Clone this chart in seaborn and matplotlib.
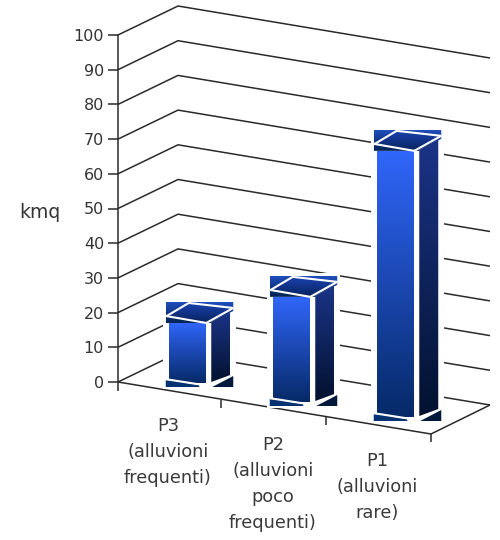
import numpy as np
import matplotlib
matplotlib.use("Agg")
import matplotlib.pyplot as plt
from matplotlib.patches import Polygon
import seaborn as sns
import pandas as pd

categories = ["P3\n(alluvioni\nfrequenti)", "P2\n(alluvioni\npoco\nfrequenti)", "P1\n(alluvioni\nrare)"]
values = [17.3, 30.3, 76.7]
tick_values = list(range(0, 101, 10))

# pixel geometry of the oblique view
W, H = 500, 540
X0, STEP = 187.5, 104.0      # first bar centre, spacing
Y0, UNIT = 382.0, 3.47       # value 0 row, pixels per unit
BASE_PX = [383, 402, 417]    # bar foot rows
LABEL_POS = [(168, 417), (273, 436), (377, 452)]

def dx(px): return (px - X0) / STEP
def dy(py): return (Y0 - py) / UNIT
def pts(seq): return [(dx(a), dy(b)) for a, b in seq]

sns.set_theme(style="white")
plt.rcParams['font.family'] = ['DejaVu Sans']
fig = plt.figure(figsize=(W / 100, H / 100), dpi=100)
ax = fig.add_axes([0, 0, 1, 1])
ax.patch.set_alpha(0)

df = pd.DataFrame({"cat": categories, "val": values})
sns.barplot(data=df, x="cat", y="val", ax=ax, width=37.5 / STEP, errorbar=None,
            color="#2f62f0", zorder=5)
bars = list(ax.patches)

LINE = "#2a2a2a"
def line(seq, z=1, lw=1.1, c=LINE):
    p = pts(seq)
    ax.plot([a for a, _ in p], [b for _, b in p], color=c, lw=lw, zorder=z, solid_capstyle="butt")

# walls
for v in tick_values:
    y = Y0 - v * UNIT
    line([(118, y), (178, y - 29), (490, y + 23)])
# floor
line([(118, Y0), (431, 434), (490, 405)])
line([(118, Y0), (118, 391)])
for x, y in [(221, 399.5), (326, 417), (431, 434)]:
    line([(x, y), (x, y + 8)])

def grad(poly_px, top, bottom, z, y0=None, y1=None):
    arr = np.array(poly_px, float)
    y0 = arr[:, 1].min() if y0 is None else y0
    y1 = arr[:, 1].max() if y1 is None else y1
    c = np.linspace(np.array(top), np.array(bottom), 64)[:, None, :] / 255
    im = ax.imshow(c, extent=[dx(arr[:, 0].min()), dx(arr[:, 0].max()), dy(y1), dy(y0)],
                   aspect="auto", origin="upper", zorder=z, interpolation="bilinear")
    clip = Polygon(pts(poly_px), closed=True, transform=ax.transData)
    im.set_clip_path(clip)

for i, p in enumerate(bars):
    B = BASE_PX[i]
    p.set_y(dy(B))
    p.set_height(values[i])
    c = X0 + STEP * i
    L, R = c - 18.75, c + 18.75
    T = B - values[i] * UNIT
    z = 3
    # white halo hiding the wall lines
    ax.add_patch(Polygon(pts([(L - 6, T - 24), (R + 30, T - 24), (R + 30, B + 6), (L - 6, B + 6)]),
                         closed=True, fc="white", ec="none", zorder=z))
    # front face gradient
    grad([(L, T), (R, T), (R, B), (L, B)], (48, 102, 250), (6, 42, 104), z + 1)
    p.set_alpha(0)
    # side face
    grad([(R + 5, T - 1), (R + 24, T - 11), (R + 24, B - 8), (R + 5, B - 1)],
         (27, 52, 135), (2, 18, 48), z + 1)
    # top band with lid
    band = [(L - 3, T - 21), (R + 27, T - 21), (R + 27, T - 12), (R + 5, T - 1), (R + 5, T), (L - 3, T)]
    grad(band, (32, 78, 190), (0, 34, 82), z + 1)
    lid = [(L - 3, T - 9), (R, T), (R + 27, T - 15), (L + 20, T - 20)]
    grad(lid, (26, 66, 175), (8, 34, 92), z + 2)
    line([(L - 3, T - 7), (R, T), (R + 27, T - 15)], z=z + 3, lw=1.5, c="white")
    line([(L - 2, T - 7), (L + 20, T - 20), (R + 27, T - 15)], z=z + 3, lw=1.5, c="white")
    # foot pieces
    ax.add_patch(Polygon(pts([(L - 3, B - 3), (R - 7, B + 2), (R - 7, B + 4), (L - 3, B + 4)]),
                         closed=True, fc="#063272", ec="none", zorder=z + 2))
    ax.add_patch(Polygon(pts([(R + 6, B + 4), (R + 27, B - 7), (R + 27, B + 4)]),
                         closed=True, fc="#02193c", ec="none", zorder=z + 2))
    line([(L - 4, B - 4), (R - 3, B + 2)], z=z + 3, lw=1.5, c="white")

# category labels
for (x, y), txt in zip(LABEL_POS, categories):
    ax.text(dx(x), dy(y), txt, ha="center", va="top", fontsize=12.8,
            color="#3a3a3a", linespacing=1.58, zorder=8)

ax.set_xlim(dx(0), dx(W))
ax.set_ylim(dy(H), dy(0))
ax.set_xticks([])
ax.set_xlabel("")
ax.set_yticks(tick_values)
ax.tick_params(axis="y", length=7, width=1.1, color=LINE, pad=3, labelsize=11.5, labelcolor="#333333", left=True)
for s in ["top", "right", "bottom"]:
    ax.spines[s].set_visible(False)
ax.spines["left"].set_position(("data", dx(118)))
ax.spines["left"].set_bounds(0, 100)
ax.spines["left"].set_color(LINE)
ax.spines["left"].set_linewidth(1.1)
ax.set_ylabel("kmq", rotation=0, fontsize=13.5, color="#333333", va="center", ha="center")
ax.yaxis.set_label_coords(40 / W, 1 - 212 / H)

fig.savefig("out.png", dpi=100)
